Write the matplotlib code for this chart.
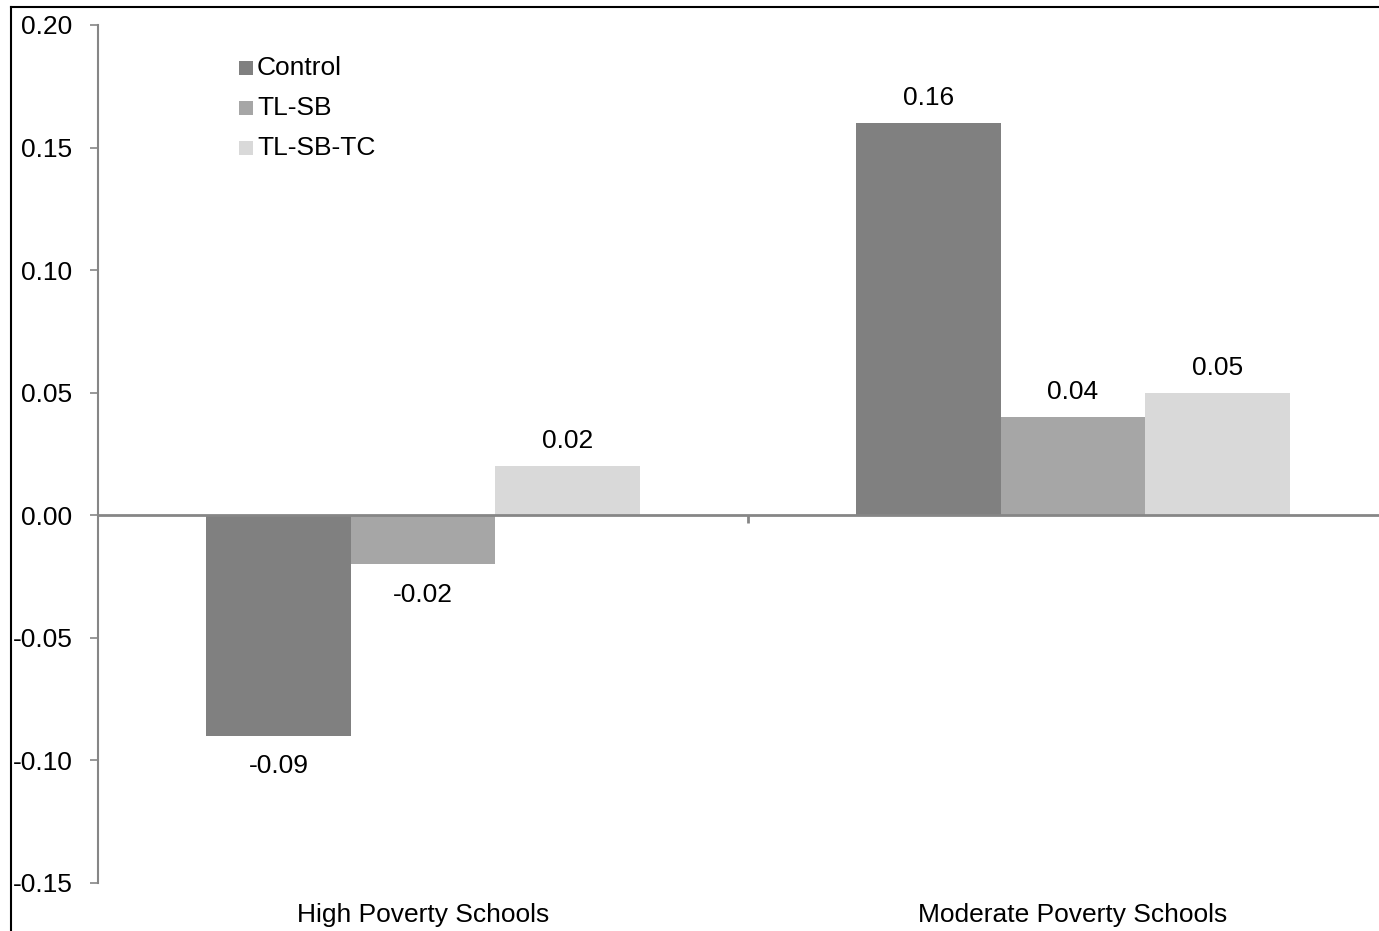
import matplotlib
matplotlib.use("Agg")
import matplotlib.pyplot as plt
from matplotlib.lines import Line2D
from matplotlib.patches import Rectangle
import numpy as np

plt.rcParams['font.family'] = ['Liberation Sans', 'DejaVu Sans']
plt.rcParams['axes.unicode_minus'] = False

categories = ["High Poverty Schools", "Moderate Poverty Schools"]
series_names = ["Control", "TL-SB", "TL-SB-TC"]
control = [-0.09, 0.16]
tl_sb = [-0.02, 0.04]
tl_sb_tc = [0.02, 0.05]
y_ticks = [-0.15, -0.10, -0.05, 0.00, 0.05, 0.10, 0.15, 0.20]

series = [control, tl_sb, tl_sb_tc]
colors = ["#808080", "#a6a6a6", "#d9d9d9"]
axis_gray = "#868686"
fs = 19

W, H = 1379, 931
fig = plt.figure(figsize=(W / 100, H / 100), dpi=100)
ax = fig.add_axes([98 / W, 48 / H, 1300 / W, 858 / H])

n = len(series)
width = 1.0 / (n + 1.5)
centers = np.arange(len(categories)) + 0.5
for i, (vals, col) in enumerate(zip(series, colors)):
    xs = centers + (i - (n - 1) / 2) * width
    ax.bar(xs, vals, width=width, color=col, edgecolor='none', zorder=2)
    for x, v in zip(xs, vals):
        dy = 18 if v >= 0 else -22
        ax.annotate(f"{v:.2f}", (x, v), xytext=(0, dy), textcoords='offset points',
                    ha='center', va='center', fontsize=fs)

ax.set_xlim(0, len(categories))
ax.set_ylim(-0.15, 0.20)
ax.set_yticks(y_ticks)
ax.set_yticklabels([f"{t:.2f}" for t in y_ticks], fontsize=fs)

for s in ['top', 'right']:
    ax.spines[s].set_visible(False)
ax.spines['left'].set_color(axis_gray)
ax.spines['left'].set_linewidth(1.5)
ax.spines['bottom'].set_position(('data', 0))
ax.spines['bottom'].set_color(axis_gray)
ax.spines['bottom'].set_linewidth(2)
ax.spines['bottom'].set_zorder(3)

ax.tick_params(axis='y', direction='out', length=5.5, width=1.2, color=axis_gray, pad=13)
ax.set_xticks(np.arange(1, len(categories) + 1))
ax.set_xticklabels([])
ax.tick_params(axis='x', direction='out', length=5.5, width=2, color=axis_gray)

for c, name in zip(centers, categories):
    ax.text(c, -0.1632, name, ha='center', va='center', fontsize=fs)

# legend drawn as squares with labels
for k, (name, col) in enumerate(zip(series_names, colors)):
    y = (H - 68 - 40 * k) / H
    fig.patches.append(Rectangle((239 / W, y - 7 / H), 14 / W, 14 / H,
                                 transform=fig.transFigure, facecolor=col,
                                 edgecolor='none'))
    fig.text(257 / W, y, name, ha='left', va='center', fontsize=fs)

# frame lines along the top and left edges
fig.add_artist(Line2D([11 / W, 1], [(H - 7) / H, (H - 7) / H], color='black', lw=1.5,
                      transform=fig.transFigure))
fig.add_artist(Line2D([11 / W, 11 / W], [0, (H - 7) / H], color='black', lw=1.5,
                      transform=fig.transFigure))

fig.savefig("out.png", dpi=100)
